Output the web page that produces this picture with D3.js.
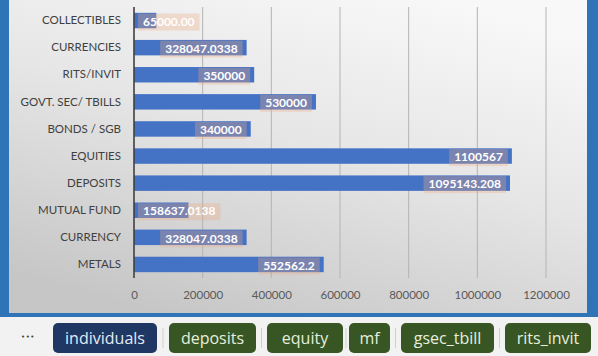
<!DOCTYPE html>
<html>
<head>
<meta charset="utf-8">
<script src="https://cdn.jsdelivr.net/npm/d3@7/dist/d3.min.js"></script>
<style>
  html, body { margin: 0; padding: 0; background: #f2f2f2; }
  svg { display: block; }
</style>
</head>
<body>
<svg id="chart" width="598" height="356"></svg>
<script>
// ---- data ----
const categories = ["COLLECTIBLES", "CURRENCIES", "RITS/INVIT", "GOVT. SEC/ TBILLS", "BONDS / SGB",
                    "EQUITIES", "DEPOSITS", "MUTUAL FUND", "CURRENCY", "METALS"];
const values = [65000, 328047.0338, 350000, 530000, 340000, 1100567, 1095143.208, 158637.0138, 328047.0338, 552562.2];
const valueLabels = ["65000.00", "328047.0338", "350000", "530000", "340000", "1100567", "1095143.208",
                     "158637.0138", "328047.0338", "552562.2"];
const xTicks = [0, 200000, 400000, 600000, 800000, 1000000, 1200000];
const sheetTabs = ["individuals", "deposits", "equity", "mf", "gsec_tbill", "rits_invit"];
const activeTab = "individuals";

// ---- layout ----
const W = 598, H = 356;
const svg = d3.select("#chart");
const defs = svg.append("defs");
const grad = defs.append("linearGradient").attr("id", "bg")
  .attr("x1", "0.75").attr("y1", "0").attr("x2", "0.25").attr("y2", "1");
grad.append("stop").attr("offset", "0").attr("stop-color", "#f8f8f8");
grad.append("stop").attr("offset", "0.45").attr("stop-color", "#e6e6e6");
grad.append("stop").attr("offset", "1").attr("stop-color", "#c6c6c6");

// page background & blue frame
svg.append("rect").attr("x", 0).attr("y", 0).attr("width", W).attr("height", H).attr("fill", "#f2f2f2");
svg.append("rect").attr("x", 0).attr("y", 0).attr("width", W).attr("height", 317).attr("fill", "#2e74b7");
svg.append("rect").attr("x", 9).attr("y", 0).attr("width", 578).attr("height", 313).attr("fill", "url(#bg)");

const x = d3.scaleLinear().domain([0, 1200000]).range([134, 546]);
const y = d3.scaleBand().domain(categories).range([7, 278]).paddingInner(0.43).paddingOuter(0.215);

// gridlines
svg.append("g").selectAll("line").data(xTicks.slice(1)).join("line")
  .attr("x1", d => x(d)).attr("x2", d => x(d))
  .attr("y1", 7).attr("y2", 278)
  .attr("stroke", "#b4b4b4").attr("stroke-width", 1);

// bars
svg.append("g").selectAll("rect").data(values).join("rect")
  .attr("x", x(0))
  .attr("y", (d, i) => y(categories[i]))
  .attr("width", d => x(d) - x(0))
  .attr("height", y.bandwidth())
  .attr("fill", "#4472c4");

// axis line
svg.append("line").attr("x1", x(0)).attr("x2", x(0)).attr("y1", 7).attr("y2", 278)
  .attr("stroke", "#404040").attr("stroke-width", 1.6);

// x axis tick labels
const xAxis = d3.axisBottom(x).tickValues(xTicks).tickFormat(d => String(d)).tickSize(0).tickPadding(0);
const gx = svg.append("g").attr("transform", "translate(0,291)").call(xAxis);
gx.select(".domain").remove();
gx.selectAll("text")
  .attr("dy", "0.71em")
  .attr("font-family", "Lato, sans-serif").attr("font-size", "11.5px").attr("fill", "#595959");

// category labels
const yAxis = d3.axisLeft(y).tickSize(0).tickPadding(0);
const gy = svg.append("g").attr("transform", "translate(121,0)").call(yAxis);
gy.select(".domain").remove();
gy.selectAll("text")
  .attr("font-family", "Lato, sans-serif").attr("font-size", "11.5px").attr("fill", "#404040");

// data labels
const lg = svg.append("g");
values.forEach((v, i) => {
  const cy = y(categories[i]) + y.bandwidth() / 2;
  const g = lg.append("g");
  const box = g.append("rect");
  const t = g.append("text")
    .attr("font-family", "Lato, sans-serif").attr("font-size", "12px").attr("font-weight", "bold")
    .attr("fill", "#ffffff").attr("dy", "0.35em").attr("y", cy + 1)
    .text(valueLabels[i]);
  const tw = t.node().getComputedTextLength();
  let tr = x(v) - 9;
  let tl = tr - tw;
  if (tl < x(0) + 9) { tl = x(0) + 9; tr = tl + tw; }
  t.attr("x", tl);
  box.attr("x", tl - 5).attr("y", cy - 7).attr("width", tw + 10).attr("height", 17)
    .attr("fill", "rgb(240,170,130)").attr("fill-opacity", 0.32);
});

// bottom sheet tabs
const tabBoxes = [[53, 157], [169, 256], [267, 343], [349, 390], [401, 494], [505, 591]];
svg.append("text").attr("x", 28).attr("y", 339).attr("text-anchor", "middle")
  .attr("font-family", "DejaVu Sans, sans-serif").attr("font-size", "7px").attr("fill", "#404040")
  .attr("letter-spacing", "0.5px").text("•••");
const tg = svg.append("g");
sheetTabs.forEach((name, i) => {
  const [a, b] = tabBoxes[i];
  const active = name === activeTab;
  tg.append("rect").attr("x", a).attr("y", 323).attr("width", b - a).attr("height", 30).attr("rx", 5)
    .attr("fill", active ? "#1f3763" : "#385623");
  tg.append("text").attr("x", (a + b) / 2).attr("y", 338).attr("dy", "0.35em").attr("text-anchor", "middle")
    .attr("font-family", "'Open Sans', sans-serif").attr("font-size", "16px")
    .attr("fill", active ? "#e4ebf6" : "#e6efdf").text(name);
  if (i < sheetTabs.length - 1) {
    const sx = (b + tabBoxes[i + 1][0]) / 2;
    tg.append("line").attr("x1", sx).attr("x2", sx).attr("y1", 328).attr("y2", 348)
      .attr("stroke", "#cfcfcf").attr("stroke-width", 1);
  }
});
</script>
</body>
</html>
